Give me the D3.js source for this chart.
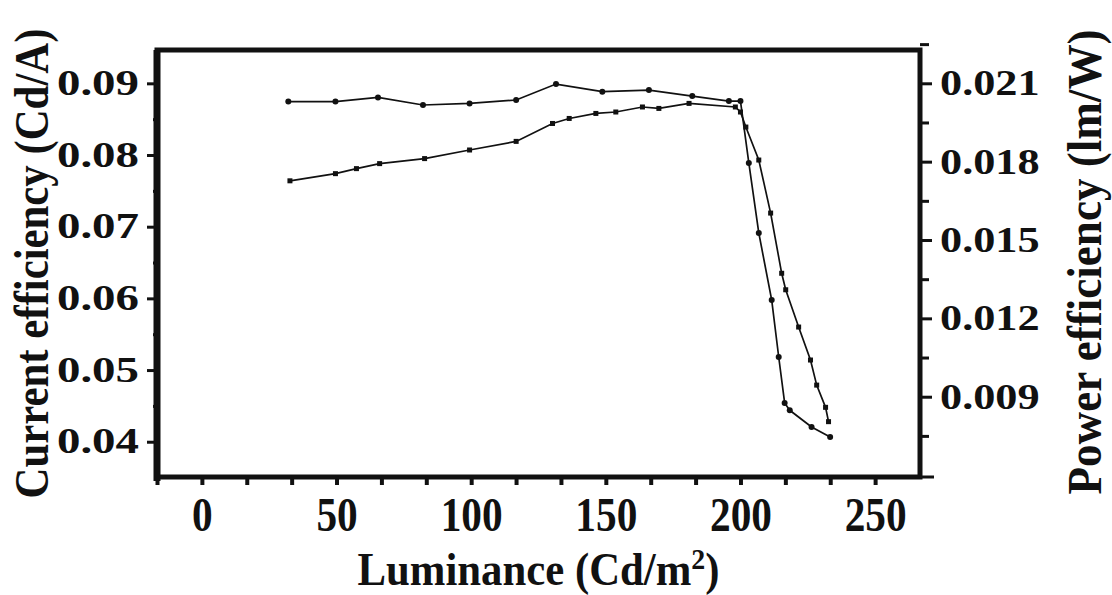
<!DOCTYPE html>
<html>
<head>
<meta charset="utf-8">
<script src="https://cdn.jsdelivr.net/npm/d3@7"></script>
<style>
  body { margin: 0; background: #fff; }
  text { font-family: "Liberation Serif", "Times New Roman", serif; font-weight: bold; fill: #111; }
</style>
</head>
<body>
<svg width="1112" height="595"></svg>
<script>
// luminance (Cd/m2) and current efficiency (Cd/A), left axis
var ceLum = [32.7, 49.6, 57.4, 66.0, 82.7, 99.4, 116.7, 130.2, 136.4, 146.3, 153.7, 163.6, 169.7, 180.9, 198.1, 200.0,
             202.0, 206.8, 211.2, 215.3, 216.8, 221.6, 226.0, 228.3, 231.6, 232.7];
var ceVal = [0.0764, 0.0774, 0.0781, 0.0788, 0.0795, 0.0807, 0.0819, 0.0844, 0.0851, 0.0858, 0.0860, 0.0867, 0.0865, 0.0872, 0.0867, 0.0860,
             0.0839, 0.0793, 0.0719, 0.0635, 0.0612, 0.0560, 0.0514, 0.0479, 0.0448, 0.0428];

// luminance (Cd/m2) and power efficiency (lm/W), right axis
var peLum = [32.1, 49.6, 65.4, 82.1, 99.4, 116.7, 131.5, 148.7, 166.0, 182.1, 195.7, 200.0,
             203.1, 206.8, 211.6, 214.2, 216.4, 218.3, 226.4, 233.3];
var peVal = [0.0203, 0.0203, 0.02046, 0.02017, 0.02023, 0.02036, 0.02097, 0.02068, 0.02074, 0.02051, 0.02032, 0.02032,
             0.01795, 0.01527, 0.0127, 0.01052, 0.00876, 0.00848, 0.00784, 0.00746];

var xLabels = [0, 50, 100, 150, 200, 250];
var leftLabels = [0.04, 0.05, 0.06, 0.07, 0.08, 0.09];
var rightLabels = [0.009, 0.012, 0.015, 0.018, 0.021];

var pLeft = 157, pRight = 920, pTop = 50, pBottom = 477;
var svg = d3.select('svg');

var x = d3.scaleLinear().domain([-50 / 3, 800 / 3]).range([pLeft, pRight]);
var yL = d3.scaleLinear().domain([0.03508, 0.09465]).range([pBottom, pTop]);
var yR = d3.scaleLinear().domain([0.005926, 0.022275]).range([pBottom, pTop]);

function isIn(list, d) {
    return list.some(function (v) { return Math.abs(v - d) < 1e-7; });
}

// stretch/squeeze text to the width it has in the scan
function fit(sel, factor) {
    sel.each(function () {
        var n = this.getComputedTextLength();
        if (n > 0) d3.select(this).attr('textLength', n * factor).attr('lengthAdjust', 'spacingAndGlyphs');
    });
}

// bottom axis
var xTicks = d3.range(0, 17).map(function (i) { return -50 / 3 + i * 50 / 3; });
var gx = svg.append('g').attr('transform', 'translate(0,' + pBottom + ')')
    .call(d3.axisBottom(x).tickValues(xTicks).tickSize(8).tickPadding(12)
        .tickFormat(function (d) { var r = Math.round(d); return (Math.abs(d - r) < 1e-6 && xLabels.indexOf(r) >= 0) ? r : ''; }));
gx.select('.domain').remove();
gx.selectAll('line').attr('stroke', '#111').attr('stroke-width', 4);
gx.selectAll('text').attr('font-size', 48).attr('fill', '#111').call(fit, 0.86);

// left axis
var lTicks = d3.range(1, 12).map(function (i) { return 0.035 + i * 0.005; });
var gl = svg.append('g').attr('transform', 'translate(' + pLeft + ',0)')
    .call(d3.axisLeft(yL).tickValues(lTicks).tickSize(10).tickPadding(8)
        .tickFormat(function (d) { return isIn(leftLabels, d) ? d3.format('.2f')(d) : ''; }));
gl.select('.domain').remove();
gl.selectAll('line').attr('stroke', '#111').attr('stroke-width', 3)
    .attr('x2', function (d) { return isIn(leftLabels, d) ? -10 : -4; });
gl.selectAll('text').attr('font-size', 35).attr('fill', '#111').call(fit, 1.34);

// right axis
var rTicks = d3.range(0, 11).map(function (i) { return 0.0075 + i * 0.0015; });
var gr = svg.append('g').attr('transform', 'translate(' + pRight + ',0)')
    .call(d3.axisRight(yR).tickValues(rTicks).tickSize(12).tickPadding(8)
        .tickFormat(function (d) { return isIn(rightLabels, d) ? d3.format('.3f')(d) : ''; }));
gr.select('.domain').remove();
gr.selectAll('line').attr('stroke', '#111').attr('stroke-width', 3)
    .attr('x2', function (d) { return isIn(rightLabels, d) ? 12 : 9; });
gr.selectAll('text').attr('font-size', 36).attr('fill', '#111').call(fit, 1.23);

// frame
svg.append('rect').attr('x', pLeft).attr('y', pTop).attr('width', pRight - pLeft).attr('height', pBottom - pTop)
    .attr('fill', 'none').attr('stroke', '#111').attr('stroke-width', 5);
svg.append('line').attr('x1', pLeft).attr('x2', pLeft).attr('y1', pTop).attr('y2', pBottom + 4)
    .attr('stroke', '#111').attr('stroke-width', 7);
svg.append('line').attr('x1', pRight).attr('x2', pRight + 14).attr('y1', pBottom).attr('y2', pBottom)
    .attr('stroke', '#111').attr('stroke-width', 3);

// series
var ce = ceLum.map(function (d, i) { return [d, ceVal[i]]; });
var pe = peLum.map(function (d, i) { return [d, peVal[i]]; });

svg.append('path').datum(ce).attr('fill', 'none').attr('stroke', '#111').attr('stroke-width', 1.7)
    .attr('d', d3.line().x(function (d) { return x(d[0]); }).y(function (d) { return yL(d[1]); }));
svg.append('path').datum(pe).attr('fill', 'none').attr('stroke', '#111').attr('stroke-width', 1.7)
    .attr('d', d3.line().x(function (d) { return x(d[0]); }).y(function (d) { return yR(d[1]); }));

svg.append('g').selectAll('rect').data(ce).enter().append('rect')
    .attr('x', function (d) { return x(d[0]) - 2.5; }).attr('y', function (d) { return yL(d[1]) - 2.5; })
    .attr('width', 5).attr('height', 5).attr('fill', '#111');
svg.append('g').selectAll('circle').data(pe).enter().append('circle')
    .attr('cx', function (d) { return x(d[0]); }).attr('cy', function (d) { return yR(d[1]); })
    .attr('r', 3).attr('fill', '#111');

// axis titles
var tx = svg.append('text').attr('x', (pLeft + pRight) / 2).attr('y', 585).attr('text-anchor', 'middle').attr('font-size', 46)
    .attr('textLength', 362).attr('lengthAdjust', 'spacingAndGlyphs');
tx.append('tspan').text('Luminance (Cd/m');
tx.append('tspan').text('2').attr('font-size', 30).attr('baseline-shift', '55%');
tx.append('tspan').text(')');

svg.append('text').attr('transform', 'translate(48,' + (pTop + pBottom) / 2 + ') rotate(-90)')
    .attr('text-anchor', 'middle').attr('font-size', 48)
    .attr('textLength', 470).attr('lengthAdjust', 'spacingAndGlyphs')
    .text('Current efficiency (Cd/A)');

svg.append('text').attr('transform', 'translate(1101,262) rotate(-90)')
    .attr('text-anchor', 'middle').attr('font-size', 48)
    .attr('textLength', 465).attr('lengthAdjust', 'spacingAndGlyphs')
    .text('Power efficiency (lm/W)');
</script>
</body>
</html>
